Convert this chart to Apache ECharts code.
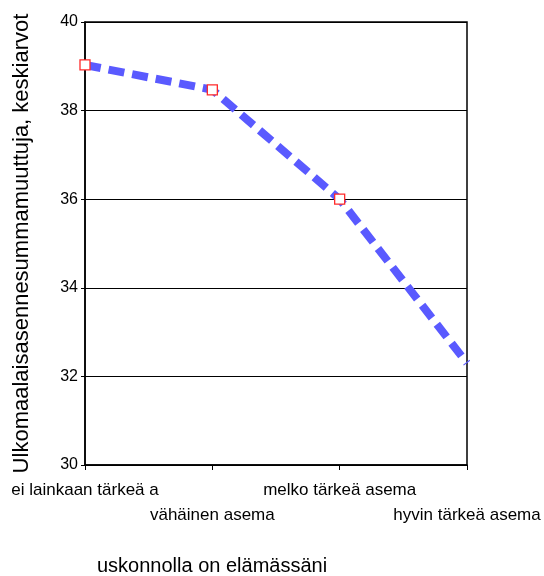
<!DOCTYPE html>
<html><head><meta charset="utf-8">
<script src="https://cdn.jsdelivr.net/npm/echarts@6/dist/echarts.min.js"></script>
<style>html,body{margin:0;padding:0;background:#fff}#c{width:544px;height:576px}</style>
</head><body><div id="c"></div>
<script>
const categories = ['ei lainkaan tärkeä a', 'vähäinen asema', 'melko tärkeä asema', 'hyvin tärkeä asema'];
const values = [39.03, 38.47, 36.0, 32.3];
const showMarker = [true, true, true, false];
const yTicks = [30, 32, 34, 36, 38, 40];

const chart = echarts.init(document.getElementById('c'));
const F = 'Liberation Sans, Arial, sans-serif';
chart.setOption({
  animation: false,
  backgroundColor: '#fff',
  title: {
    text: 'uskonnolla on elämässäni', left: 97, top: 556, padding: 0,
    textStyle: { fontFamily: F, fontSize: 20, fontWeight: 'normal', color: '#000' }
  },
  grid: { left: 85, top: 22, width: 382, height: 443, show: true, borderColor: '#000', borderWidth: 1.5, backgroundColor: 'transparent' },
  xAxis: {
    type: 'category', data: categories, boundaryGap: false,
    axisLine: { lineStyle: { color: '#000', width: 1.5 } },
    axisTick: { show: true, length: 5, lineStyle: { color: '#000' } },
    axisLabel: {
      interval: 0, margin: 13, lineHeight: 25, color: '#000', fontFamily: F, fontSize: 17,
      formatter: (v, i) => (i % 2 ? '\n' + v : v)
    },
    splitLine: { show: false }
  },
  yAxis: {
    type: 'value', min: yTicks[0], max: yTicks[yTicks.length - 1], interval: 2,
    name: 'Ulkomaalaisasennesummamuuttuja, keskiarvot', nameLocation: 'middle', nameGap: 52,
    nameTextStyle: { fontFamily: F, fontSize: 22, color: '#000' },
    axisLine: { show: true, lineStyle: { color: '#000', width: 1.5 } },
    axisTick: { show: true, length: 4, lineStyle: { color: '#000' } },
    axisLabel: { color: '#000', fontFamily: F, fontSize: 16, margin: 7 },
    splitLine: { show: true, lineStyle: { color: '#000', width: 1.2 } }
  },
  series: [{
    type: 'line',
    data: values.map((v, i) => ({ value: v, symbol: showMarker[i] ? 'rect' : 'none' })),
    symbolSize: 10,
    itemStyle: { color: '#fff', borderColor: '#ff2a2a', borderWidth: 1.3 },
    lineStyle: { color: '#5a5aff', width: 8, type: [16, 8] },
    z: 3
  }]
});
</script>
</body></html>
